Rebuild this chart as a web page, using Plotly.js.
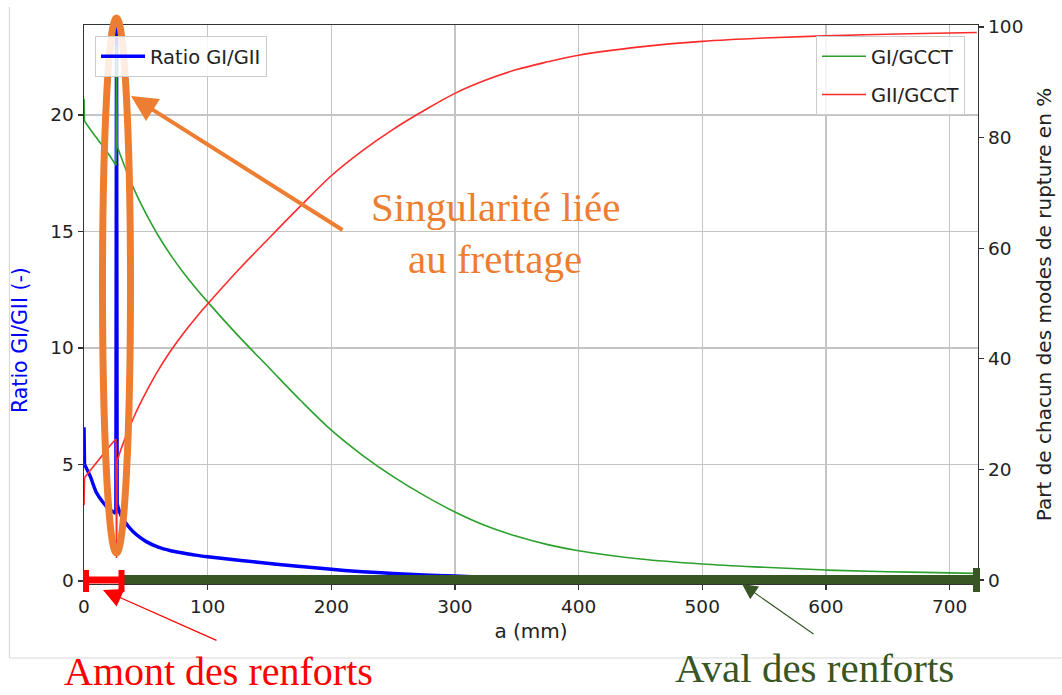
<!DOCTYPE html>
<html>
<head>
<meta charset="utf-8">
<script src="https://cdn.plot.ly/plotly-3.0.1.min.js"></script>
<style>html,body{margin:0;padding:0;background:#fff;}#chart{width:1062px;height:695px;}</style>
</head>
<body>
<div id="chart"></div>
<script>
// ---- data ----
const a_mm = [0, 0.4, 5, 10, 15, 20, 25.8, 26.3, 26.8, 30, 35, 40, 45, 50, 60, 70, 80, 90, 100, 125, 150, 175, 200, 225, 250, 275, 300, 325, 350, 375, 400, 450, 500, 550, 600, 650, 700, 722];
const ratioGI_GII = [6.6, 5.0, 4.5, 3.8, 3.4, 3.1, 2.9, 23.8, 3.3, 2.8, 2.4, 2.1, 1.88, 1.7, 1.45, 1.3, 1.2, 1.11, 1.04, 0.89, 0.75, 0.62, 0.5, 0.4, 0.32, 0.26, 0.21, 0.17, 0.14, 0.11, 0.09, 0.06, 0.04, 0.03, 0.025, 0.02, 0.02, 0.02];
const GI_GCCT = [87, 83, 81.5, 80, 78.5, 77, 75, 96.5, 78.5, 76.5, 73.6, 70.9, 68.5, 66.3, 62.3, 58.8, 55.7, 52.9, 50.3, 44.1, 38.3, 32.5, 27.1, 22.6, 18.7, 15.3, 12.3, 9.8, 7.9, 6.4, 5.3, 3.8, 2.9, 2.3, 1.8, 1.5, 1.3, 1.2];
const GII_GCCT = [13.5, 18.5, 19.8, 21.2, 22.6, 24, 25.5, 4, 21.5, 23.7, 26.6, 29.3, 31.7, 33.9, 37.9, 41.4, 44.5, 47.3, 49.9, 56.1, 61.9, 67.6, 73.1, 77.6, 81.5, 84.9, 88.0, 90.4, 92.3, 93.7, 94.9, 96.4, 97.4, 98.0, 98.4, 98.7, 98.9, 99.0];
const xTicks = [0, 100, 200, 300, 400, 500, 600, 700];
const seriesNames = ['Ratio GI/GII', 'GI/GCCT', 'GII/GCCT'];

// ---- layout geometry (pixels) ----
const W = 1062, H = 695;
const M = {l: 84, r: 84, t: 25, b: 111};
const PW = W - M.l - M.r, PH = H - M.t - M.b;
const px = v => (v - M.l) / PW;          // pixel x -> paper
const py = v => (H - M.b - v) / PH;      // pixel y -> paper

const ORANGE = '#ED7D31', DKGREEN = '#375623', RED = '#FF0000';
const FONT = 'DejaVu Sans, sans-serif';
const SERIF = 'Liberation Serif, Times New Roman, serif';

// split each series so the smooth parts are splined and the jumps stay sharp
const SPIKE_START = 6, SPIKE_END = 8; // indices around the singularity
const pieces = [[0, 1, 'linear'], [1, SPIKE_START, 'spline'], [SPIKE_START, SPIKE_END, 'linear'], [SPIKE_END, a_mm.length - 1, 'spline']];

function seriesTraces(values, name, color, width, yaxis, legend) {
  return pieces.map((p, k) => ({
    x: a_mm.slice(p[0], p[1] + 1), y: values.slice(p[0], p[1] + 1),
    name: name, type: 'scatter', mode: 'lines', legendgroup: name, showlegend: k === 0,
    line: {color: color, width: width, shape: p[2], smoothing: 1},
    yaxis: yaxis, legend: legend
  }));
}

const traces = [].concat(
  seriesTraces(ratioGI_GII, seriesNames[0], '#0000ff', 3.5, 'y', 'legend'),
  seriesTraces(GI_GCCT, seriesNames[1], '#2ca02c', 1.6, 'y2', 'legend2'),
  seriesTraces(GII_GCCT, seriesNames[2], '#ff2a2a', 1.6, 'y2', 'legend2')
);

const rect = (x0, x1, y0, y1, color) => ({type: 'rect', xref: 'paper', yref: 'paper',
  x0: px(x0), x1: px(x1), y0: py(y1), y1: py(y0), fillcolor: color, line: {width: 0}, layer: 'above'});

const shapes = [
  // outer light frame
  {type: 'line', xref: 'paper', yref: 'paper', x0: px(9.5), x1: px(9.5), y0: py(7), y1: py(658), line: {color: '#d9d9d9', width: 1.2}},
  {type: 'line', xref: 'paper', yref: 'paper', x0: px(9.5), x1: px(1062), y0: py(658), y1: py(658), line: {color: '#d9d9d9', width: 1.2}},
  // green "aval" bar
  rect(122, 978, 575, 584, DKGREEN),
  rect(973, 980, 568, 592, DKGREEN),
  // red "amont" bar with caps
  rect(84, 122, 576.5, 583.5, RED),
  rect(83, 89, 570, 592, RED),
  rect(118.5, 124.5, 570, 592, RED),
  // orange ellipse around singularity
  {type: 'circle', xref: 'paper', yref: 'paper', x0: px(102.5), x1: px(130.5), y0: py(553), y1: py(18),
   line: {color: ORANGE, width: 7}, layer: 'above'}
];

const arrow = (hx, hy, tx, ty, color, width, size) => ({
  xref: 'paper', yref: 'paper', x: px(hx), y: py(hy), ax: tx - hx, ay: ty - hy,
  axref: 'pixel', ayref: 'pixel', text: '', showarrow: true, arrowhead: 2,
  arrowsize: size, arrowwidth: width, arrowcolor: color, standoff: 0, startstandoff: 0
});

const annotations = [
  arrow(131, 96, 344, 231, ORANGE, 4, 1.3),
  arrow(103, 590, 218, 641, RED, 1.2, 3.2),
  arrow(742, 584, 815, 635, DKGREEN, 1.1, 2.8),
  {xref: 'paper', yref: 'paper', x: px(495), y: py(207), text: 'Singularité liée', showarrow: false,
   font: {family: SERIF, size: 41, color: ORANGE}, xanchor: 'center', yanchor: 'middle'},
  {xref: 'paper', yref: 'paper', x: px(495), y: py(259), text: 'au frettage', showarrow: false,
   font: {family: SERIF, size: 41, color: ORANGE}, xanchor: 'center', yanchor: 'middle'},
  {xref: 'paper', yref: 'paper', x: px(218.5), y: py(671), text: 'Amont des renforts', showarrow: false,
   font: {family: SERIF, size: 40, color: RED}, xanchor: 'center', yanchor: 'middle'},
  {xref: 'paper', yref: 'paper', x: px(814.5), y: py(668), text: 'Aval des renforts', showarrow: false,
   font: {family: SERIF, size: 41, color: DKGREEN}, xanchor: 'center', yanchor: 'middle'},
  // left axis title (placed where the reference draws it)
  {xref: 'paper', yref: 'paper', x: px(20), y: py(340), text: 'Ratio GI/GII (-)', showarrow: false, textangle: -90,
   font: {family: FONT, size: 20.5, color: '#0000ff'}, xanchor: 'center', yanchor: 'middle'}
];

const axisCommon = {
  ticks: 'outside', ticklen: 5, tickwidth: 1.2, tickcolor: '#333',
  showline: true, linecolor: '#333', linewidth: 1.4,
  tickfont: {family: FONT, size: 18.5, color: '#222'}, zeroline: false
};

const legendStyle = {
  bgcolor: 'rgba(255,255,255,0.85)', bordercolor: '#cccccc', borderwidth: 1, itemwidth: 44,
  font: {family: FONT, size: 19.5, color: '#222'}, xref: 'paper', yref: 'paper'
};

const layout = {
  width: W, height: H, margin: M,
  paper_bgcolor: '#fff', plot_bgcolor: '#fff',
  font: {family: FONT, color: '#222'},
  xaxis: Object.assign({}, axisCommon, {
    range: [0, 723], tickvals: xTicks, showgrid: true, gridcolor: '#c4c4c4', gridwidth: 1.2,
    mirror: true, title: {text: 'a (mm)', font: {family: FONT, size: 20, color: '#222'}, standoff: 8}
  }),
  yaxis: Object.assign({}, axisCommon, {
    range: [-0.13, 23.86], dtick: 5, showgrid: true, gridcolor: '#c4c4c4', gridwidth: 1.2
  }),
  yaxis2: Object.assign({}, axisCommon, {
    range: [-0.72, 100.36], dtick: 20, overlaying: 'y', side: 'right', showgrid: false,
    title: {text: 'Part de chacun des modes de rupture en %', font: {family: FONT, size: 20, color: '#222'}, standoff: 14}
  }),
  legend: Object.assign({}, legendStyle, {x: px(95), y: py(36), xanchor: 'left', yanchor: 'top'}),
  legend2: Object.assign({}, legendStyle, {x: px(965), y: py(36), xanchor: 'right', yanchor: 'top'}),
  shapes: shapes,
  annotations: annotations,
  showlegend: true
};

Plotly.newPlot('chart', traces, layout, {displayModeBar: false, staticPlot: true});
</script>
</body>
</html>
